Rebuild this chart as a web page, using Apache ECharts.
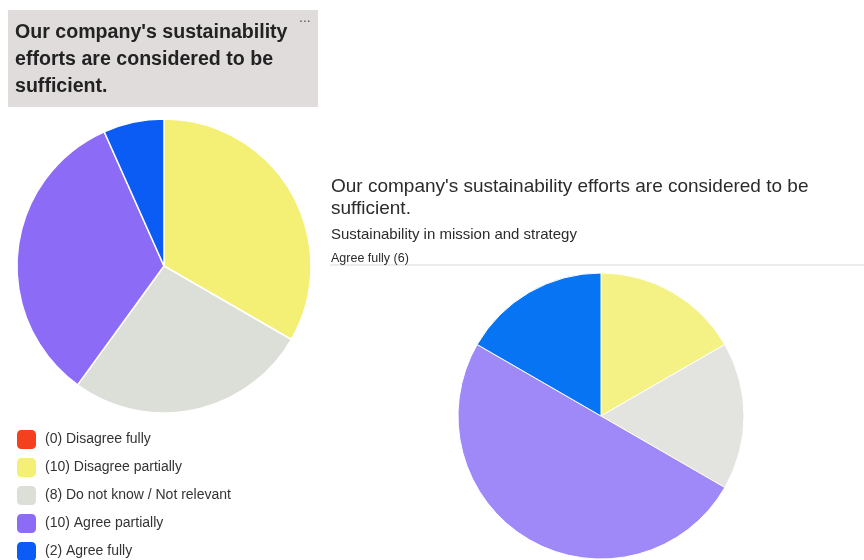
<!DOCTYPE html>
<html>
<head>
<meta charset="utf-8">
<script src="https://cdn.jsdelivr.net/npm/echarts@6/dist/echarts.min.js"></script>
<style>
  html, body { margin: 0; padding: 0; background: #fff; }
  #chart { width: 864px; height: 560px; }
</style>
</head>
<body>
<div id="chart"></div>
<script>
// Answer categories shared by both pies
const categories = ['Disagree fully', 'Disagree partially', 'Do not know / Not relevant', 'Agree partially', 'Agree fully'];
// All respondents
const allCounts = [0, 10, 8, 10, 2];
// Respondents who fully agree with "Sustainability in mission and strategy"
const subsetCounts = [0, 1, 1, 3, 1];

const subsetTopic = 'Sustainability in mission and strategy';
const subsetFilter = 'Agree fully (6)';

const leftColors = ['#f5401f', '#f3f075', '#dcdfd8', '#8c6cf7', '#0a5cf5'];
const rightColors = ['#f5401f', '#f5f285', '#e3e3df', '#9f88f8', '#0774f4'];

const chart = echarts.init(document.getElementById('chart'));
const font = '"Liberation Sans", Helvetica, Arial, sans-serif';

const pieData = (counts, colors) => categories.map((name, i) => ({
  name, value: counts[i], itemStyle: { color: colors[i] }
}));

chart.setOption({
  animation: false,
  textStyle: { fontFamily: font },
  graphic: [
    { type: 'rect', left: 8, top: 10, shape: { width: 310, height: 97 }, style: { fill: '#e0dcdc' }, z: 0 },
    { type: 'text', left: 299, top: 11, style: { text: '...', font: '14px ' + font, fill: '#555' }, z: 2 },
    { type: 'line', shape: { x1: 330, y1: 265, x2: 864, y2: 265 }, style: { stroke: '#ececec', lineWidth: 2 }, z: 1 }
  ],
  title: [
    {
      text: "Our company's sustainability\nefforts are considered to be\nsufficient.",
      left: 15, top: 19, padding: 0,
      textStyle: { fontSize: 19.6, fontWeight: 'bold', lineHeight: 27, color: '#222', fontFamily: font }
    },
    {
      text: "Our company's sustainability efforts are considered to be\nsufficient.",
      left: 331, top: 176, padding: 0,
      textStyle: { fontSize: 19, fontWeight: 'normal', lineHeight: 22, color: '#2b2b2b', fontFamily: font }
    },
    {
      text: subsetTopic,
      left: 331, top: 227, padding: 0,
      textStyle: { fontSize: 15, fontWeight: 'normal', color: '#2b2b2b', fontFamily: font }
    },
    {
      text: subsetFilter,
      left: 331, top: 252, padding: 0,
      textStyle: { fontSize: 12.5, fontWeight: 'normal', color: '#2b2b2b', fontFamily: font }
    }
  ],
  legend: {
    orient: 'vertical',
    left: 15, top: 428, height: 160, padding: 0,
    itemWidth: 21, itemHeight: 21, itemGap: 5,
    selectedMode: false,
    icon: 'roundRect',
    data: categories.map((name, i) => ({ name, itemStyle: { color: leftColors[i] } })),
    formatter: name => '(' + allCounts[categories.indexOf(name)] + ') ' + name,
    textStyle: { fontSize: 14, lineHeight: 21, color: '#333', fontFamily: font, padding: [0, 0, 0, 3] }
  },
  series: [
    {
      type: 'pie',
      center: [164, 266], radius: 147,
      startAngle: 90, clockwise: true,
      label: { show: false }, labelLine: { show: false },
      emphasis: { disabled: true },
      itemStyle: { borderColor: '#fff', borderWidth: 1.5 },
      data: pieData(allCounts, leftColors)
    },
    {
      type: 'pie',
      center: [601, 416], radius: 143,
      startAngle: 90, clockwise: true,
      label: { show: false }, labelLine: { show: false },
      emphasis: { disabled: true },
      itemStyle: { borderColor: '#fff', borderWidth: 1 },
      data: pieData(subsetCounts, rightColors)
    }
  ]
});
</script>
</body>
</html>
